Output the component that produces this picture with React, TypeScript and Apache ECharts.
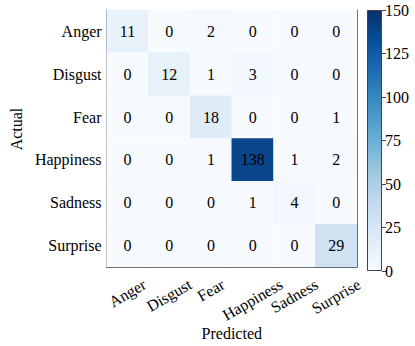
import React, { useEffect, useRef } from "react";
import * as echarts from "echarts";

const classes = ["Anger", "Disgust", "Fear", "Happiness", "Sadness", "Surprise"];
const rowAnger = [11, 0, 2, 0, 0, 0];
const rowDisgust = [0, 12, 1, 3, 0, 0];
const rowFear = [0, 0, 18, 0, 0, 1];
const rowHappiness = [0, 0, 1, 138, 1, 2];
const rowSadness = [0, 0, 0, 1, 4, 0];
const rowSurprise = [0, 0, 0, 0, 0, 29];
const matrix = [rowAnger, rowDisgust, rowFear, rowHappiness, rowSadness, rowSurprise];
const colorbarTicks = [0, 25, 50, 75, 100, 125, 150];
const vMin = 0;
const vMax = 150;

const blues = ["#f7fbff", "#deebf7", "#c6dbef", "#9ecae1", "#6baed6", "#4292c6", "#2171b5", "#08519c", "#08306b"];

const FONT = "Liberation Serif";
const AX = "#444";
const GRID_LEFT = 97;
const GRID_TOP = 10;
const GRID_W = 260;
const GRID_H = 261;

export default function App() {
  const ref = useRef<HTMLDivElement>(null);
  useEffect(() => {
    document.body.style.margin = "0";
    const chart = echarts.init(ref.current!, null, { renderer: "svg" });
    const data: number[][] = [];
    matrix.forEach((row, r) => row.forEach((v, c) => data.push([c, r, v])));
    const topDown = blues.slice().reverse();
    const gradStops = topDown.map((c, i) => ({ offset: i / (topDown.length - 1), color: c }));
    const textBase = { fontFamily: FONT, fontSize: 16, color: "#000" };
    chart.setOption({
      animation: false,
      textStyle: { fontFamily: FONT },
      grid: [
        { left: GRID_LEFT, top: GRID_TOP, width: GRID_W, height: GRID_H },
        { left: 367, top: GRID_TOP, width: 15, height: GRID_H },
      ],
      xAxis: [
        {
          gridIndex: 0, type: "category", data: classes, position: "bottom",
          name: "Predicted", nameLocation: "middle", nameGap: 58,
          nameTextStyle: { ...textBase },
          axisLine: { lineStyle: { color: AX } },
          axisTick: { alignWithLabel: true, length: 4, lineStyle: { color: AX } },
          axisLabel: { show: false },
          splitLine: { show: false },
        },
        {
          gridIndex: 0, type: "category", data: classes, position: "top",
          axisLine: { lineStyle: { color: AX } }, axisTick: { show: false }, axisLabel: { show: false },
        },
        { gridIndex: 1, type: "category", data: [""], show: false },
      ],
      yAxis: [
        {
          gridIndex: 0, type: "category", data: classes, inverse: true,
          name: "Actual", nameLocation: "middle", nameGap: 79,
          nameTextStyle: { ...textBase, padding: [0, 0, 0, 19] },
          axisLine: { lineStyle: { color: AX } },
          axisTick: { alignWithLabel: true, length: 4, lineStyle: { color: AX } },
          axisLabel: { ...textBase, margin: 5 },
        },
        {
          gridIndex: 0, type: "category", data: classes, inverse: true, position: "right",
          axisLine: { lineStyle: { color: AX } }, axisTick: { show: false }, axisLabel: { show: false },
        },
        {
          gridIndex: 1, type: "value", min: vMin, max: vMax, interval: 25, position: "right",
          axisLine: { show: false },
          axisTick: { show: true, length: 4, lineStyle: { color: AX } },
          axisLabel: { ...textBase, margin: 3, formatter: (v: number) => (colorbarTicks.includes(v) ? String(v) : "") },
          splitLine: { show: false },
        },
      ],
      visualMap: {
        show: false, min: vMin, max: vMax, seriesIndex: 0, dimension: 2,
        inRange: { color: blues },
      },
      series: [
        {
          type: "heatmap", xAxisIndex: 0, yAxisIndex: 0, data,
          label: { show: true, ...textBase },
          itemStyle: { borderWidth: 0 },
          emphasis: { disabled: true },
        },
        {
          type: "bar", xAxisIndex: 2, yAxisIndex: 2, data: [vMax], barWidth: "100%",
          itemStyle: {
            color: new echarts.graphic.LinearGradient(0, 0, 0, 1, gradStops),
            borderColor: AX, borderWidth: 1,
          },
          silent: true,
        },
      ],
    });

    // Rotated x tick labels, placed like matplotlib (rotation=30, ha=center, va=top)
    const canvas = document.createElement("canvas");
    const ctx = canvas.getContext("2d")!;
    ctx.font = `16px "${FONT}"`;
    const ang = Math.PI / 6;
    const h = 16 * 1.15;
    const pad = 4;
    const axisY = GRID_TOP + GRID_H;
    const labels = classes.map((name) => {
      const px = chart.convertToPixel({ xAxisIndex: 0 }, name) as number;
      const w = ctx.measureText(name).width;
      const H = w * Math.sin(ang) + h * Math.cos(ang);
      return {
        type: "text",
        x: px,
        y: axisY + pad + H / 2,
        rotation: ang,
        silent: true,
        style: { text: name, font: `16px "${FONT}"`, fill: "#000", align: "center", verticalAlign: "middle" },
      };
    });
    chart.setOption({ graphic: labels });
    return () => chart.dispose();
  }, []);
  return <div ref={ref} style={{ width: 415, height: 346 }} />;
}
